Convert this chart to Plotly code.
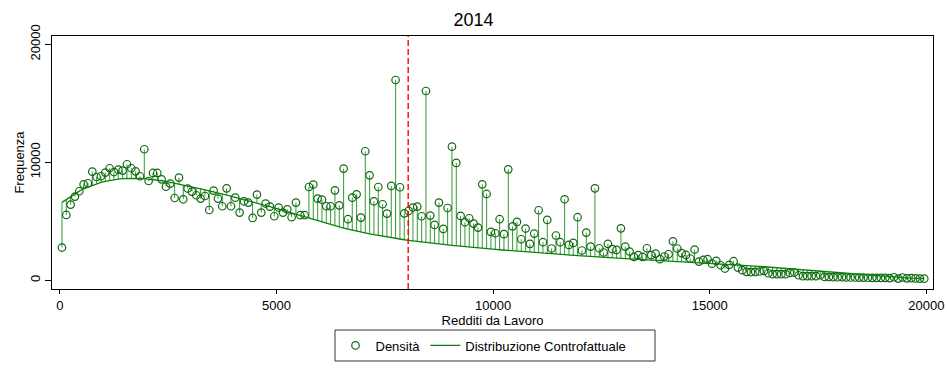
import plotly.graph_objects as go

# Bin midpoints (Redditi da Lavoro), 100-wide bins
x_bins = list(range(50, 20000, 100))

# Densità (observed frequencies)
densita = [
    2770, 5530, 6410, 7090, 7540, 8130, 8220, 9200, 8750, 8810,
    9120, 9490, 9170, 9370, 9290, 9830, 9490, 9230, 8810, 11100,
    8410, 9090, 9090, 8550, 7930, 8190, 6970, 8700, 6860, 7770,
    7510, 7200, 6920, 7140, 5950, 7600, 6920, 6270, 7790, 6270,
    7000, 5730, 6690, 6580, 5280, 7260, 5730, 6500, 6240, 5420,
    6160, 5730, 6010, 5340, 6580, 5510, 5510, 7900, 8110, 6920,
    6830, 6270, 6270, 7620, 6350, 9460, 5170, 7000, 7280, 5310,
    10930, 8890, 6690, 7900, 6440, 5650, 7990, 16970, 7880, 5670,
    5870, 6160, 6240, 5420, 16040, 5480, 4690, 6580, 4350, 6120,
    11320, 9940, 5450, 4910, 5250, 4800, 4460, 8130, 7310, 4100,
    3980, 5170, 3900, 9400, 4570, 4940, 3470, 4380, 3080, 3950,
    5930, 3220, 5110, 2690, 3790, 3220, 6860, 2990, 3160, 5340,
    2520, 4040, 2850, 7790, 2710, 2350, 3080, 2630, 2570, 4400,
    2850, 2430, 1970, 2120, 1970, 2710, 2120, 2260, 1780, 2010,
    2200, 3300, 2690, 2290, 2140, 1840, 2600, 1580, 1720, 1780,
    1400, 1640, 1270, 990, 1300, 1610, 1070, 850, 710, 680,
    710, 740, 790, 590, 510, 510, 510, 510, 620, 650,
    420, 340, 340, 340, 340, 420, 280, 270, 260, 250,
    260, 240, 230, 230, 220, 220, 210, 200, 200, 190,
    200, 180, 250, 140, 230, 160, 170, 150, 140, 130,
]

# Distribuzione Controfattuale (counterfactual curve, read per bin)
controfattuale = [
    6600, 6850, 7100, 7350, 7550, 7750, 7900, 8050, 8180, 8290,
    8380, 8460, 8520, 8570, 8610, 8630, 8640, 8640, 8630, 8610,
    8580, 8540, 8490, 8430, 8370, 8300, 8230, 8150, 8070, 7990,
    7910, 7830, 7750, 7660, 7580, 7490, 7400, 7310, 7220, 7130,
    7030, 6940, 6840, 6740, 6640, 6540, 6440, 6330, 6230, 6120,
    6010, 5900, 5790, 5680, 5570, 5460, 5350, 5240, 5130, 5020,
    4910, 4810, 4710, 4610, 4510, 4420, 4330, 4240, 4160, 4080,
    4000, 3930, 3860, 3790, 3720, 3660, 3600, 3540, 3480, 3430,
    3380, 3330, 3280, 3230, 3190, 3150, 3110, 3070, 3030, 2990,
    2950, 2910, 2880, 2840, 2810, 2770, 2740, 2700, 2670, 2640,
    2610, 2580, 2550, 2520, 2490, 2460, 2430, 2400, 2380, 2350,
    2320, 2300, 2270, 2240, 2220, 2190, 2170, 2140, 2120, 2090,
    2070, 2040, 2020, 1990, 1970, 1950, 1920, 1900, 1880, 1850,
    1830, 1810, 1790, 1770, 1750, 1730, 1710, 1690, 1670, 1650,
    1630, 1610, 1590, 1570, 1550, 1530, 1510, 1490, 1470, 1450,
    1430, 1410, 1390, 1370, 1350, 1330, 1300, 1280, 1250, 1230,
    1200, 1170, 1140, 1110, 1080, 1050, 1020, 990, 960, 930,
    900, 870, 840, 810, 780, 750, 720, 690, 660, 630,
    600, 570, 540, 510, 480, 450, 420, 390, 360, 330,
    300, 270, 250, 230, 210, 190, 170, 160, 150, 140,
]

soglia = 8040  # red dashed reference line
x_ticks = [0, 5000, 10000, 15000, 20000]
x_ticklabels = ["0", "5000", "10000", "15000", "20000"]
y_ticks = [0, 10000, 20000]
y_ticklabels = ["0", "10000", "20000"]

assert len(densita) == len(x_bins) == len(controfattuale)

# spikes between density and counterfactual
sx, sy = [], []
for xv, d, c in zip(x_bins, densita, controfattuale):
    sx += [xv, xv, None]
    sy += [d, c, None]

fig = go.Figure()
fig.add_trace(go.Scatter(x=sx, y=sy, mode="lines", showlegend=False,
                         line=dict(color="rgba(0,128,0,0.8)", width=1),
                         hoverinfo="skip"))
fig.add_trace(go.Scatter(x=x_bins, y=densita, mode="markers", name="Densità",
                         marker=dict(symbol="circle-open", size=7.5, color="#116811",
                                     line=dict(width=1.2)),
                         legendrank=1))
fig.add_trace(go.Scatter(x=x_bins, y=controfattuale, mode="lines",
                         name="Distribuzione Controfattuale",
                         line=dict(color="#0a800a", width=1.3),
                         legendrank=2))

fig.add_shape(type="line", x0=soglia, x1=soglia, y0=0, y1=1, xref="x", yref="paper",
              line=dict(color="#ff0000", width=1.4, dash="6px,3px"))

# legend frame (Stata-style box)
L, R, T, B = 52, 14, 36, 88
W, H = 947 - L - R, 377 - T - B
def px2paper_x(p):
    return (p - L) / W
def py2paper_y(p):
    return (377 - B - p) / H
fig.add_shape(type="rect", xref="paper", yref="paper",
              x0=px2paper_x(335), x1=px2paper_x(655),
              y0=py2paper_y(361), y1=py2paper_y(330),
              line=dict(color="#333333", width=1), fillcolor="rgba(0,0,0,0)")

font = "Liberation Sans, Arial, Helvetica, sans-serif"
fig.update_layout(
    width=947, height=377,
    margin=dict(l=L, r=R, t=T, b=B, autoexpand=False),
    paper_bgcolor="white", plot_bgcolor="white",
    font=dict(family=font, size=13, color="black"),
    title=dict(text="2014", x=0.5, xanchor="center", y=1 - 20 / 377, yanchor="middle",
               yref="container", font=dict(size=18, color="black")),
    xaxis=dict(range=[-180, 20152], tickvals=x_ticks, ticktext=x_ticklabels,
               ticks="outside", ticklen=4,
               tickcolor="black", showgrid=False, zeroline=False,
               showline=True, mirror=True, linecolor="black", linewidth=1,
               title=dict(text="Redditi da Lavoro", standoff=0, font=dict(size=13))),
    yaxis=dict(range=[-745, 20700], tickvals=y_ticks, ticktext=y_ticklabels,
               ticks="outside", ticklen=6,
               tickcolor="black", tickangle=-90, showgrid=False, zeroline=False,
               showline=True, mirror=True, linecolor="black", linewidth=1,
               title=dict(text="Frequenza", standoff=0, font=dict(size=13))),
    legend=dict(orientation="h", x=0.5 - 9 / W, xanchor="center",
                y=py2paper_y(345.5), yanchor="middle",
                borderwidth=0, bgcolor="rgba(0,0,0,0)", font=dict(size=13),
                traceorder="normal", entrywidth=0),
    showlegend=True,
)

fig.write_html("out.html", config={"displayModeBar": False},
               post_script="document.body.style.margin='0';document.body.style.overflow='hidden';")
